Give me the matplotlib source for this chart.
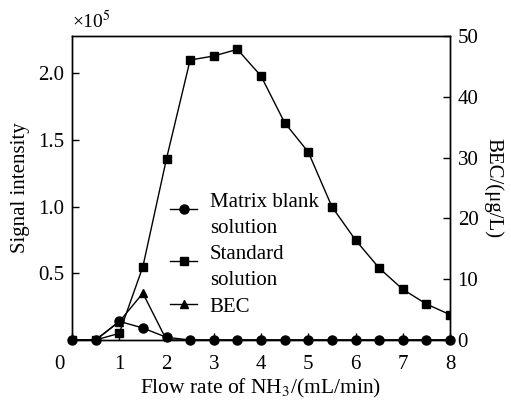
import matplotlib
matplotlib.use("Agg")
import matplotlib.pyplot as plt
import matplotlib.transforms as mtransforms
from matplotlib.lines import Line2D
from matplotlib.legend_handler import HandlerLine2D

plt.rcParams['font.family'] = ['Liberation Serif', 'DejaVu Serif']
plt.rcParams['mathtext.fontset'] = 'stix'

flow = [0, 0.5, 1, 1.5, 2, 2.5, 3, 3.5, 4, 4.5, 5, 5.5, 6, 6.5, 7, 7.5, 8]
matrix_blank = [0, 0, 0.14, 0.09, 0.02, 0, 0, 0, 0, 0, 0, 0, 0, 0, 0, 0, 0]  # x1e5
standard = [0, 0, 0.05, 0.55, 1.36, 2.10, 2.13, 2.18, 1.98, 1.63, 1.41, 1.00, 0.75, 0.54, 0.38, 0.27, 0.19]  # x1e5
bec = [0, 0, 3.0, 7.7, 0, 0, 0, 0, 0, 0, 0, 0, 0, 0, 0, 0, 0]  # ug/L

xticks = [0, 1, 2, 3, 4, 5, 6, 7, 8]
yticks_left = [0.5, 1.0, 1.5, 2.0]
yticks_right = [0, 10, 20, 30, 40, 50]

fig = plt.figure(figsize=(5.11, 4.01), dpi=100)
ax = fig.add_axes([72/511, 1-340/401, (450-72)/511, (340-36)/401])
ax2 = ax.twinx()

fs = 15
ax.plot(flow, standard, color='black', lw=1, marker='s', ms=6, zorder=3)
ax2.plot(flow, bec, color='black', lw=1, marker='^', ms=6, zorder=3)
ax.plot(flow, matrix_blank, color='black', lw=1, marker='o', ms=6.5, zorder=4, clip_on=False)

ax.set_xlim(0, 8)
ax.set_ylim(0, 2.28)
ax2.set_ylim(0, 50)
ax.set_xticks(xticks)
ax.set_xticklabels([str(t) for t in xticks])
ax.set_yticks(yticks_left)
ax.set_yticklabels(['%.1f' % t for t in yticks_left])
ax2.set_yticks(yticks_right)

ax.tick_params(axis='x', direction='in', labelsize=fs, length=5, width=1, pad=11)
ax.tick_params(axis='y', direction='in', labelsize=fs, length=5, width=1, pad=5.5)
ax2.tick_params(axis='y', direction='in', labelsize=fs, length=5, width=1, pad=5.5)

# shift "0" x tick label left
for lab in ax.get_xticklabels():
    if lab.get_text() == '0':
        lab.set_transform(lab.get_transform() + mtransforms.ScaledTranslation(-13/100, 0, fig.dpi_scale_trans))

for a in (ax, ax2):
    for s in a.spines.values():
        s.set_linewidth(1)

ax.set_xlabel('Flow rate of NH$_3$/(mL/min)', fontsize=15.5, labelpad=2)
ax.set_ylabel('Signal intensity', fontsize=fs, labelpad=6)
ax2.set_ylabel('BEC/(μg/L)', fontsize=fs, rotation=270, labelpad=18)
ax.text(0, 1.012, '×10$^5$', transform=ax.transAxes, fontsize=14, ha='left', va='bottom')


class UpHandler(HandlerLine2D):
    def __init__(self, dy=0.0, **kw):
        super().__init__(**kw)
        self.dy = dy

    def create_artists(self, legend, orig_handle, xdescent, ydescent, width, height, fontsize, trans):
        return super().create_artists(legend, orig_handle, xdescent, ydescent - self.dy,
                                      width, height, fontsize, trans)


h_mb = Line2D([], [], color='black', lw=1, marker='o', ms=6.5)
h_st = Line2D([], [], color='black', lw=1, marker='s', ms=6)
h_bec = Line2D([], [], color='black', lw=1, marker='^', ms=6)
handles = [h_mb, h_st, h_bec]
labels = ['Matrix blank\nsolution', 'Standard\nsolution', 'BEC']
leg = ax.legend(handles, labels, loc='upper left', bbox_to_anchor=(0.26, 0.485),
                frameon=False, fontsize=fs, handlelength=1.3, handletextpad=0.6,
                labelspacing=0.35, borderaxespad=0, borderpad=0,
                handler_map={h_mb: UpHandler(dy=9.0), h_st: UpHandler(dy=9.0),
                             h_bec: UpHandler(dy=0.0)})
for t in leg.get_texts():
    t.set_linespacing(1.5)

fig.savefig('out.png', dpi=100)
